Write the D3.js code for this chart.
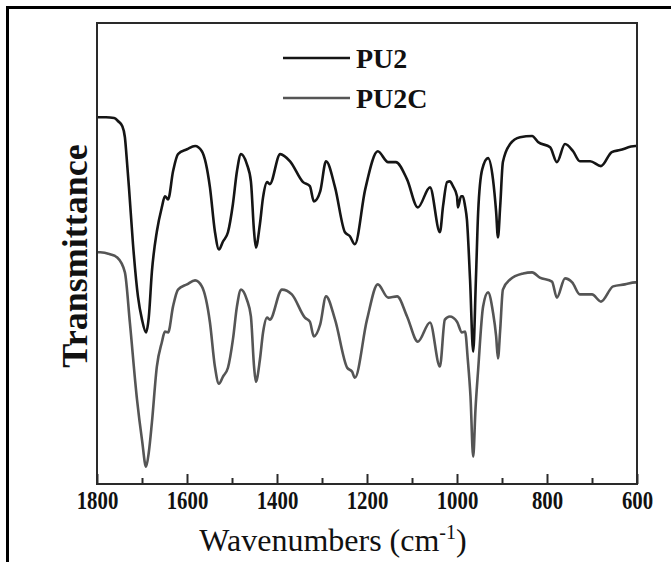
<!DOCTYPE html>
<html>
<head>
<meta charset="utf-8">
<script src="https://cdn.jsdelivr.net/npm/d3@7"></script>
<style>
  html, body { margin: 0; padding: 0; background: #fff; }
  svg { display: block; }
</style>
</head>
<body>
<svg id="chart" width="671" height="562"></svg>
<script>
// FTIR spectra, wavenumber (cm-1) vs transmittance (a.u., curves offset)
const pu2Wavenumber = [1800,1780,1762,1753,1744,1738,1733,1729,1720,1709,1700,1691,1685,1678,1667,1656,1649,1642,1631,1620,1600,1582,1567,1549,1538,1529,1520,1509,1498,1489,1480,1467,1458,1451,1447,1438,1431,1422,1416,1393,1371,1342,1327,1318,1304,1291,1271,1249,1238,1227,1204,1176,1153,1136,1111,1087,1060,1038,1031,1022,1016,1009,1000,998,991,987,982,978,971,964,958,953,944,931,920,913,909,904,898,882,860,833,820,793,778,760,742,727,704,680,656,638,604,600];
const pu2Transmittance = [91.5,91.5,91.3,90.5,89.3,86.5,79.8,74.0,59.8,46.8,41.0,37.8,41.5,53.0,63.0,69.0,71.8,71.0,78.0,82.3,83.5,84.3,83.0,74.0,63.0,58.5,60.5,62.8,69.8,78.0,82.3,79.8,75.5,63.0,59.0,64.8,71.5,75.3,74.8,82.3,80.5,75.3,74.3,70.5,73.0,80.5,74.0,62.8,61.8,59.8,73.5,83.0,80.3,80.3,76.0,69.0,74.0,62.8,69.3,75.3,75.5,74.3,71.8,69.0,71.8,71.8,69.3,66.0,51.0,33.0,51.0,67.8,78.5,81.3,76.0,67.8,61.5,69.3,80.3,84.8,86.5,86.8,85.3,84.0,80.3,84.8,83.0,80.5,80.5,79.3,82.8,83.3,84.3,84.3];

const pu2cWavenumber = [1800,1793,1771,1755,1738,1727,1711,1700,1691,1685,1678,1667,1656,1649,1642,1631,1620,1600,1582,1567,1549,1538,1529,1520,1509,1498,1489,1480,1467,1458,1451,1447,1438,1431,1422,1416,1389,1367,1338,1327,1318,1304,1291,1271,1244,1233,1227,1200,1176,1153,1133,1111,1087,1060,1038,1027,1016,1000,989,982,976,970,964,959,953,942,931,920,913,909,904,898,882,853,833,816,789,778,760,744,727,700,680,653,627,604,600];
const pu2cTransmittance = [57.8,57.8,57.3,56.5,52.8,40.3,21.0,11.0,4.3,7.8,15.3,29.3,35.3,38.0,37.8,44.3,48.5,49.8,50.8,49.3,40.3,29.3,25.0,26.8,29.0,36.0,44.3,48.5,46.0,41.8,29.3,25.5,31.0,37.8,41.5,41.0,48.5,47.3,41.5,40.5,36.8,39.8,46.8,41.0,29.0,28.0,26.5,41.0,49.8,46.5,46.8,41.8,35.5,40.3,29.3,41.0,41.8,40.5,37.8,38.0,31.0,21.8,6.8,18.5,28.5,44.3,47.8,42.8,36.8,31.3,38.5,48.5,51.0,52.5,52.8,51.5,50.5,46.5,51.3,50.3,47.3,47.3,45.5,49.3,49.8,50.3,50.3];

const majorTicks = [1800,1600,1400,1200,1000,800,600];
const minorTicks = [1700,1500,1300,1100,900,700];
const seriesNames = ["PU2","PU2C"];
const seriesColors = ["#151515","#555555"];

const serif = "'Liberation Serif', 'Times New Roman', serif";
const svg = d3.select("#chart");
const plot = { left: 97, right: 637, top: 23, bottom: 484 };

svg.append("rect").attr("width", 671).attr("height", 562).attr("fill", "#fff");

// outer figure frame (runs off the right and bottom edges)
svg.append("rect")
  .attr("x", 7.5).attr("y", 7.5).attr("width", 700).attr("height", 600)
  .attr("fill", "none").attr("stroke", "#000").attr("stroke-width", 3);

const x = d3.scaleLinear().domain([1800, 600]).range([plot.left, plot.right]);
const y = d3.scaleLinear().domain([0, 115]).range([plot.bottom, plot.top]);

const line = d3.line()
  .x(d => x(d[0]))
  .y(d => y(d[1]))
  .curve(d3.curveMonotoneX);

const series = [
  { name: seriesNames[0], color: seriesColors[0], pts: d3.zip(pu2Wavenumber, pu2Transmittance) },
  { name: seriesNames[1], color: seriesColors[1], pts: d3.zip(pu2cWavenumber, pu2cTransmittance) }
];

svg.append("g").selectAll("path")
  .data(series)
  .join("path")
  .attr("d", d => line(d.pts))
  .attr("fill", "none")
  .attr("stroke", d => d.color)
  .attr("stroke-width", 2.6)
  .attr("stroke-linejoin", "round");

// plot frame
svg.append("rect")
  .attr("x", plot.left).attr("y", plot.top)
  .attr("width", plot.right - plot.left).attr("height", plot.bottom - plot.top)
  .attr("fill", "none").attr("stroke", "#2a2a2a").attr("stroke-width", 2);

// bottom axis: inward ticks, labelled majors plus short minors
const axisMajor = d3.axisBottom(x).tickValues(majorTicks).tickSize(-10).tickPadding(7).tickFormat(d3.format("d"));
const gx = svg.append("g").attr("transform", `translate(0,${plot.bottom})`).call(axisMajor);
gx.select(".domain").remove();
gx.selectAll(".tick line").attr("stroke", "#2a2a2a").attr("stroke-width", 2);
gx.selectAll(".tick text")
  .attr("font-family", serif)
  .attr("font-weight", "bold").attr("font-size", 26).attr("fill", "#111")
  .attr("transform", "scale(0.8,1)");

const axisMinor = d3.axisBottom(x).tickValues(minorTicks).tickSize(-6).tickFormat("");
const gm = svg.append("g").attr("transform", `translate(0,${plot.bottom})`).call(axisMinor);
gm.select(".domain").remove();
gm.selectAll(".tick line").attr("stroke", "#2a2a2a").attr("stroke-width", 2);

// axis titles
const xTitle = svg.append("text")
  .attr("x", 333).attr("y", 551)
  .attr("text-anchor", "middle")
  .attr("font-family", serif)
  .attr("font-size", 32).attr("fill", "#111");
xTitle.append("tspan").text("Wavenumbers (cm");
xTitle.append("tspan").attr("dy", -12).attr("font-size", 20).text("-1");
xTitle.append("tspan").attr("dy", 12).text(")");

svg.append("text")
  .attr("transform", "translate(87,256) rotate(-90)")
  .attr("text-anchor", "middle")
  .attr("font-family", serif)
  .attr("font-weight", "bold").attr("font-size", 36).attr("fill", "#111")
  .text("Transmittance");

// legend
const legend = svg.append("g").selectAll("g")
  .data(series)
  .join("g")
  .attr("transform", (d, i) => `translate(283,${58 + i * 40})`);
legend.append("line")
  .attr("x1", 0).attr("x2", 67).attr("y1", 0).attr("y2", 0)
  .attr("stroke", d => d.color).attr("stroke-width", 2.6);
legend.append("text")
  .attr("x", 73).attr("y", 10)
  .attr("font-family", serif)
  .attr("font-weight", "bold").attr("font-size", 28).attr("fill", "#111")
  .text(d => d.name);
</script>
</body>
</html>
